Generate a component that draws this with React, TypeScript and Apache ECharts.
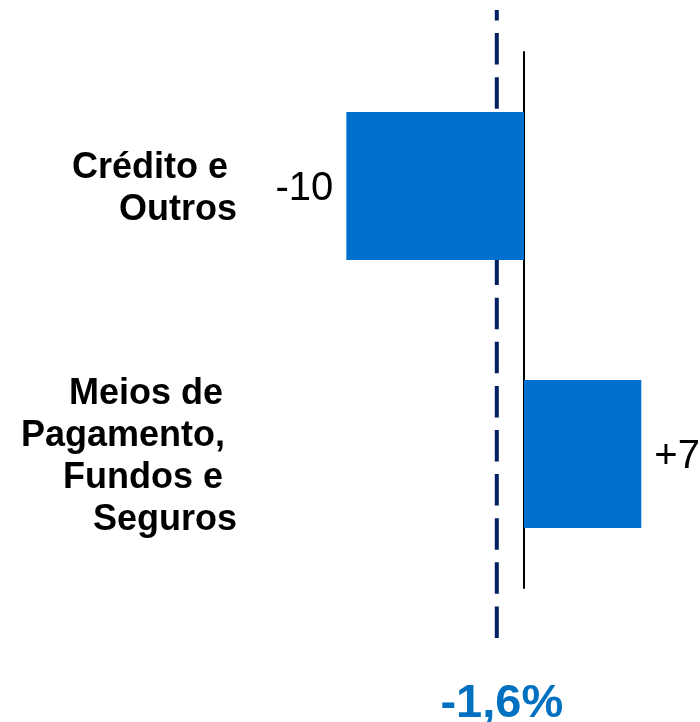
import React, { useEffect, useRef } from "react";
import * as echarts from "echarts";

const categories = ["Crédito e Outros", "Meios de Pagamento, Fundos e Seguros"];
const categoryLines = [
  ["Crédito e", "Outros"],
  ["Meios de", "Pagamento,", "Fundos e", "Seguros"],
];
const values = [-10.45, 6.9];
const valueLabels = ["-10", "+7"];
const totalChange = -1.6;
const totalLabel = "-1,6%";

export default function App() {
  const ref = useRef<HTMLDivElement>(null);
  useEffect(() => {
    if (!ref.current) return;
    const chart = echarts.init(ref.current, null, { renderer: "svg" });
    const font = "Arial, 'Liberation Sans', sans-serif";
    const styleKey = (s: string) =>
      s === "Crédito e" ? "a" : / (e|de)$/.test(s) ? "b" : /,$/.test(s) ? "c" : "n";
    const base = { fontSize: 36, fontWeight: "bold", fontFamily: font, color: "#000", lineHeight: 42 };
    chart.setOption({
      animation: false,
      grid: [
        { left: 252, right: 6, top: 52, bottom: 134, outerBoundsMode: "none", containLabel: false },
        { left: 252, right: 6, top: 10, bottom: 84, outerBoundsMode: "none", containLabel: false },
      ],
      xAxis: [
        { type: "value", gridIndex: 0, min: -16, max: 10, show: false },
        { type: "value", gridIndex: 1, min: -16, max: 10, show: false },
      ],
      yAxis: [
        {
          type: "category",
          gridIndex: 0,
          inverse: true,
          data: categories,
          axisLine: { show: true, onZero: true, lineStyle: { color: "#000", width: 2 } },
          axisTick: { show: false },
          axisLabel: {
            margin: 15,
            align: "right",
            formatter: (_v: string, i: number) =>
              categoryLines[i].map((l) => `{${styleKey(l)}|${l}}`).join("\n"),
            rich: {
              a: { ...base, padding: [0, 9, 0, 0] },
              b: { ...base, padding: [0, 14, 0, 0] },
              c: { ...base, padding: [0, 12, 0, 0] },
              n: { ...base },
            },
          },
        },
        { type: "value", gridIndex: 1, min: 0, max: 1, show: false },
      ],
      series: [
        {
          type: "line",
          xAxisIndex: 1,
          yAxisIndex: 1,
          z: 1,
          symbol: "none",
          data: [
            [totalChange, 1],
            [totalChange, 0],
          ],
          lineStyle: { color: "#002060", width: 4, type: [31.5, 12.6], dashOffset: 20.5 },
        },
        {
          type: "scatter",
          xAxisIndex: 1,
          yAxisIndex: 1,
          z: 3,
          symbolSize: 1,
          itemStyle: { color: "rgba(0,0,0,0)", opacity: 1 },
          data: [[totalChange, 0]],
          label: {
            show: true,
            position: "bottom",
            distance: 43,
            offset: [5, -1],
            formatter: () => totalLabel,
            fontSize: 47,
            lineHeight: 40,
            fontWeight: "bold",
            fontFamily: font,
            color: "#0070C0",
            opacity: 1,
          },
        },
        {
          type: "bar",
          xAxisIndex: 0,
          yAxisIndex: 0,
          z: 2,
          barWidth: 148,
          itemStyle: { color: "#0070CE" },
          data: values.map((v, i) => ({
            value: v,
            label: {
              show: true,
              position: v < 0 ? "left" : "right",
              distance: 13,
              formatter: () => valueLabels[i],
              fontSize: 40,
              fontFamily: font,
              color: "#000",
            },
          })),
        },
      ],
    });
    return () => chart.dispose();
  }, []);
  return <div ref={ref} style={{ position: "fixed", left: 0, top: 0, width: 700, height: 722 }} />;
}
